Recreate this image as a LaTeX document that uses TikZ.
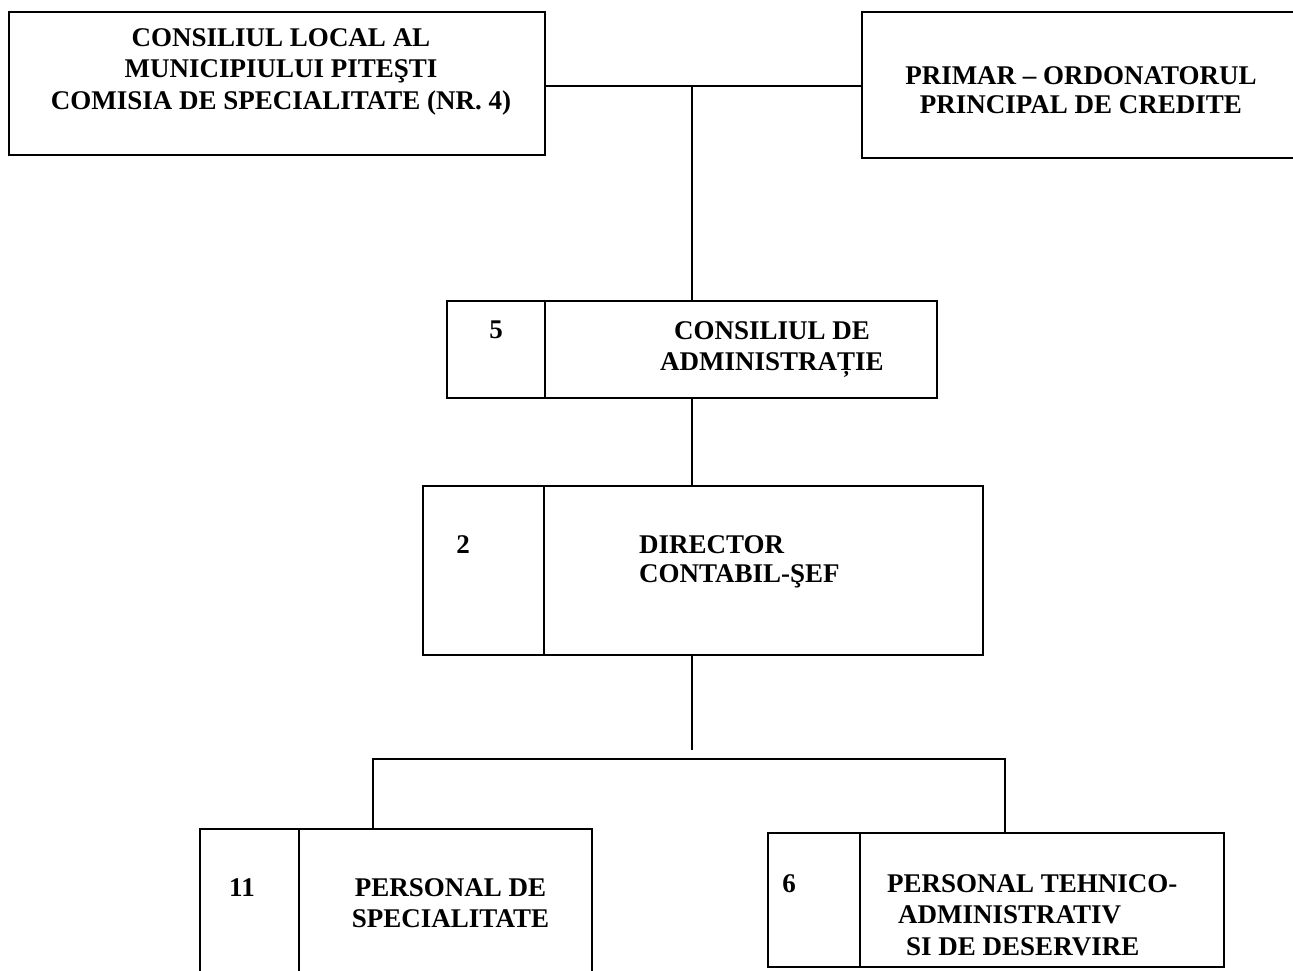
\documentclass[tikz,border=0pt]{standalone}
\usepackage{fontspec}
\setmainfont{Liberation Serif}
\usetikzlibrary{positioning}

\begin{document}
\begin{tikzpicture}[x=1pt,y=-1pt,
    cell/.style={draw,line width=2.2pt,inner sep=0pt,outer sep=0pt},
    lbl/.style={inner sep=0pt,align=center,font=\fontsize{27}{31.5}\selectfont\bfseries},
    tight/.style={font=\fontsize{27}{29}\selectfont\bfseries},
    link/.style={line width=1.8pt}]
        \useasboundingbox (0,0) rectangle (1293,970);
        \clip (0,0) rectangle (1293,970);

        \node[cell,minimum width=536pt,minimum height=143pt] (cons) at (277,83.5) {};
        \node[cell,minimum width=438pt,minimum height=146pt] (prim) at (1081,85) {};
        \node[lbl] (consl) [below=16pt of cons.north,xshift=4pt] {CONSILIUL LOCAL AL\\MUNICIPIULUI PITEŞTI\\COMISIA DE SPECIALITATE (NR. 4)};
        \node[lbl,tight] (priml) [below=54pt of prim.north] {PRIMAR -- ORDONATORUL\\PRINCIPAL DE CREDITE};

        \node[cell,minimum width=98pt,minimum height=97pt] (admn) at (496,349.5) {};
        \node[cell,minimum width=392pt,minimum height=97pt] (admt) [right=0pt of admn] {};
        \node[lbl] (admnl) [below=20pt of admn.north] {5};
        \node[lbl] (admtl) [below=20pt of admt.north,xshift=31pt] {CONSILIUL DE\\ADMINISTRAȚIE};

        \node[cell,minimum width=121pt,minimum height=169pt] (dirn) at (483.5,570.5) {};
        \node[cell,minimum width=439pt,minimum height=169pt] (dirt) [right=0pt of dirn] {};
        \node[lbl] (dirnl) [below=49pt of dirn.north,xshift=-20.5pt] {2};
        \node[lbl,tight,align=left] (dirtl) [below right=49pt and 95pt of dirt.north west] {DIRECTOR\\CONTABIL-ŞEF};

        \node[cell,minimum width=99pt,minimum height=171pt] (specn) at (249.5,914.5) {};
        \node[cell,minimum width=293pt,minimum height=171pt] (spect) [right=0pt of specn] {};
        \node[lbl] (specnl) [below=49pt of specn.north,xshift=-7.5pt] {11};
        \node[lbl] (spectl) [below=49pt of spect.north,xshift=5pt] {PERSONAL DE\\SPECIALITATE};

        \node[cell,minimum width=92pt,minimum height=134pt] (tehn) at (814,900) {};
        \node[cell,minimum width=364pt,minimum height=134pt] (teht) [right=0pt of tehn] {};
        \node[lbl] (tehnl) [below=41pt of tehn.north,xshift=-25pt] {6};
        \node[lbl,align=left] (tehtl) [below right=41pt and 27pt of teht.north west] {PERSONAL TEHNICO-\\\hspace*{11pt}ADMINISTRATIV\\\hspace*{19pt}SI DE DESERVIRE};

        \coordinate (hub) at (692,86);
        \coordinate (fork) at (692,750);
        \coordinate (lft) at (373,759);
        \coordinate (rgt) at (1005,759);

        \draw[link] (hub -| cons.east) -- (hub -| prim.west);
        \draw[link] (hub) -- (hub |- admt.north);
        \draw[link] (admt.south -| hub) -- (dirt.north -| hub);
        \draw[link] (dirt.south -| hub) -- (fork);
        \draw[link] (specn.north -| lft) -- (lft) -- (rgt) -- (teht.north -| rgt);
    \end{tikzpicture}
\end{document}
